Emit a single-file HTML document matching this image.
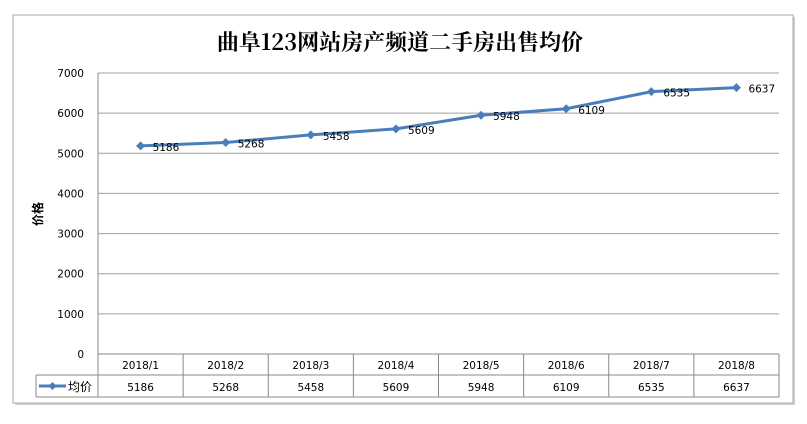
<!DOCTYPE html>
<html><head><meta charset="utf-8"><style>
body{margin:0;background:#fff;width:807px;height:420px;overflow:hidden;font-family:"DejaVu Sans","Noto Sans CJK SC",sans-serif}
</style></head><body>
<svg id="c" width="807" height="420" xmlns="http://www.w3.org/2000/svg" font-family="'DejaVu Sans','Noto Sans CJK SC',sans-serif">
<rect x="15" y="17" width="780" height="388" fill="#d0d0d0"/>
<rect x="13" y="15" width="780" height="388" fill="#fff" stroke="#a8a8a8"/>
<text x="400" y="50" text-anchor="middle" font-size="22" font-weight="bold" font-family="'Noto Serif CJK SC','Liberation Serif',serif">曲阜123网站房产频道二手房出售均价</text>
<text transform="translate(42,214) rotate(-90)" text-anchor="middle" font-size="12" font-weight="bold" font-family="'Noto Sans CJK SC',sans-serif">价格</text>
<g id="g"></g>
</svg>
<script>
const categories=["2018/1","2018/2","2018/3","2018/4","2018/5","2018/6","2018/7","2018/8"];
const values=[5186,5268,5458,5609,5948,6109,6535,6637];
const yTicks=[0,1000,2000,3000,4000,5000,6000,7000];
const seriesName="均价";
const NS="http://www.w3.org/2000/svg";
const g=document.getElementById('g');
const L=98,R=779,T=73,B=354,yMax=7000;
const cw=(R-L)/categories.length;
const xs=i=>L+cw*(i+0.5);
const ys=v=>B-(v/yMax)*(B-T);
function mk(t,a,txt){const e=document.createElementNS(NS,t);for(const k in a)e.setAttribute(k,a[k]);if(txt!==undefined)e.textContent=txt;g.appendChild(e);return e;}
yTicks.forEach(v=>{
 const l=mk('line',{x1:L,x2:R,y1:ys(v),y2:ys(v),stroke:v===0?'#888':'#a0a0a0'});
 
 
 const t=mk('text',{x:L-14,y:ys(v)+4,'text-anchor':'end','font-size':10.5},String(v));
 
 
});
const ax=mk('line',{x1:L,x2:L,y1:T,y2:397,stroke:'#888'});


const r1=354,r2=375,r3=397,tl=36;
[[L,R,r1],[L,R,r2],[tl,R,r2],[tl,R,r3]].forEach(a=>{const l=mk('line',{x1:a[0],x2:a[1],y1:a[2],y2:a[2],stroke:'#888'});});
const lt=mk('line',{x1:tl,x2:tl,y1:r2,y2:r3,stroke:'#888'});


categories.forEach((c,i)=>{
 const x=L+cw*(i+1);
 const l=mk('line',{x1:x,x2:x,y1:r1,y2:r3,stroke:'#888'});
 
 
 const t=mk('text',{x:xs(i),y:369,'text-anchor':'middle','font-size':10.5},c);
 
 
 const v=mk('text',{x:xs(i),y:391,'text-anchor':'middle','font-size':10.5},String(values[i]));
 
 
});
const ll=mk('line',{x1:39,x2:66,y1:386,y2:386,stroke:'#4a7ebb','stroke-width':3});


const lm=mk('path',{d:'M52.5,382 L56.5,386 L52.5,390 L48.5,386Z',fill:'#4a7ebb'});


const lx=mk('text',{x:68,y:391,'font-size':12,'font-family':"'Noto Sans CJK SC',sans-serif"},seriesName);


const pl=mk('polyline',{points:values.map((v,i)=>xs(i)+','+ys(v)).join(' '),fill:'none',stroke:'#4a7ebb','stroke-width':3,'stroke-linejoin':'round'});


values.forEach((v,i)=>{
 const x=xs(i),y=ys(v);
 const p=mk('path',{d:`M${x},${y-4.5}L${x+4.5},${y}L${x},${y+4.5}L${x-4.5},${y}Z`,fill:'#4a7ebb'});
 
 
 const t=mk('text',{x:x+12,y:y+5,'font-size':10.5},String(v));
 
 
});
</script>
</body></html>
